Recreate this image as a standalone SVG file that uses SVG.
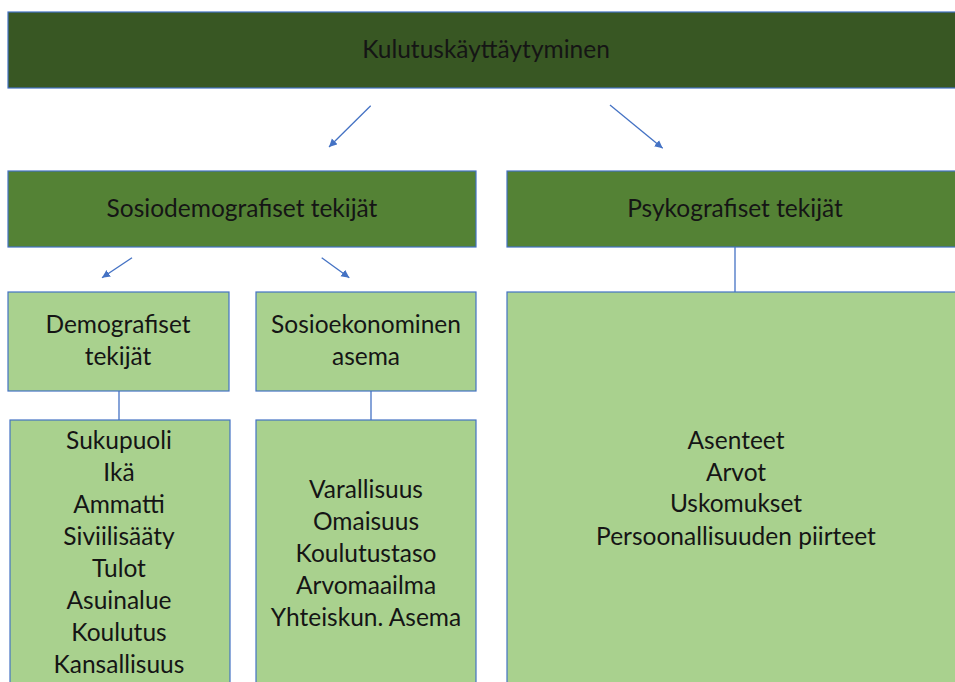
<svg xmlns="http://www.w3.org/2000/svg" width="955" height="682" viewBox="0 0 955 682">
<style>
  .box { stroke: #4472C4; stroke-width: 1.2; }
  .dark { fill: #385723; }
  .mid { fill: #548235; }
  .light { fill: #A9D18E; }
  text { font-family: Lato, "Liberation Sans", sans-serif; font-size: 24.5px; fill: #151515; text-anchor: middle; }
  .conn { stroke: #4472C4; stroke-width: 1.3; fill: none; }
</style>
<defs>
  <marker id="ah" markerUnits="userSpaceOnUse" markerWidth="10" markerHeight="10" refX="8" refY="4" orient="auto">
    <path d="M0,0 L8,4 L0,8 Z" fill="#4472C4"/>
  </marker>
</defs>
<rect width="955" height="682" fill="#ffffff"/>

<g id="connectors">
  <line class="conn" x1="370.7" y1="105.7" x2="329" y2="147" marker-end="url(#ah)"/>
  <line class="conn" x1="610" y1="105" x2="662.7" y2="148.3" marker-end="url(#ah)"/>
  <line class="conn" x1="132" y1="257.7" x2="102" y2="277.7" marker-end="url(#ah)"/>
  <line class="conn" x1="321.7" y1="257.7" x2="349.3" y2="277.7" marker-end="url(#ah)"/>
  <line class="conn" x1="735" y1="247" x2="735" y2="292"/>
  <line class="conn" x1="119" y1="391" x2="119" y2="420"/>
  <line class="conn" x1="371" y1="391" x2="371" y2="420"/>
</g>

<g id="kulutuskayttaytyminen">
  <rect class="box dark" x="8" y="12" width="958" height="76"/>
  <text x="486" y="58">Kulutuskäyttäytyminen</text>
</g>

<g id="sosiodemografiset">
  <rect class="box mid" x="8" y="171" width="468" height="76"/>
  <text x="242" y="217">Sosiodemografiset tekijät</text>
</g>

<g id="psykografiset">
  <rect class="box mid" x="507" y="171" width="459" height="76"/>
  <text x="735" y="217">Psykografiset tekijät</text>
</g>

<g id="demografiset">
  <rect class="box light" x="8" y="292" width="221" height="99"/>
  <text x="118" y="333">Demografiset</text>
  <text x="118" y="365">tekijät</text>
</g>

<g id="sosioekonominen">
  <rect class="box light" x="256" y="292" width="220" height="99"/>
  <text x="366" y="333">Sosioekonominen</text>
  <text x="366" y="365">asema</text>
</g>

<g id="demografiset-lista">
  <rect class="box light" x="10" y="420" width="220" height="280"/>
  <text x="119" y="449">Sukupuoli</text>
  <text x="119" y="481">Ikä</text>
  <text x="119" y="513">Ammatti</text>
  <text x="119" y="545">Siviilisääty</text>
  <text x="119" y="577">Tulot</text>
  <text x="119" y="609">Asuinalue</text>
  <text x="119" y="641">Koulutus</text>
  <text x="119" y="673">Kansallisuus</text>
</g>

<g id="sosioekonominen-lista">
  <rect class="box light" x="256" y="420" width="220" height="280"/>
  <text x="366" y="498">Varallisuus</text>
  <text x="366" y="530">Omaisuus</text>
  <text x="366" y="562">Koulutustaso</text>
  <text x="366" y="594">Arvomaailma</text>
  <text x="366" y="626">Yhteiskun. Asema</text>
</g>

<g id="psykografiset-lista">
  <rect class="box light" x="507" y="292" width="459" height="410"/>
  <text x="736" y="449">Asenteet</text>
  <text x="736" y="481">Arvot</text>
  <text x="736" y="512">Uskomukset</text>
  <text x="736" y="545">Persoonallisuuden piirteet</text>
</g>
</svg>
